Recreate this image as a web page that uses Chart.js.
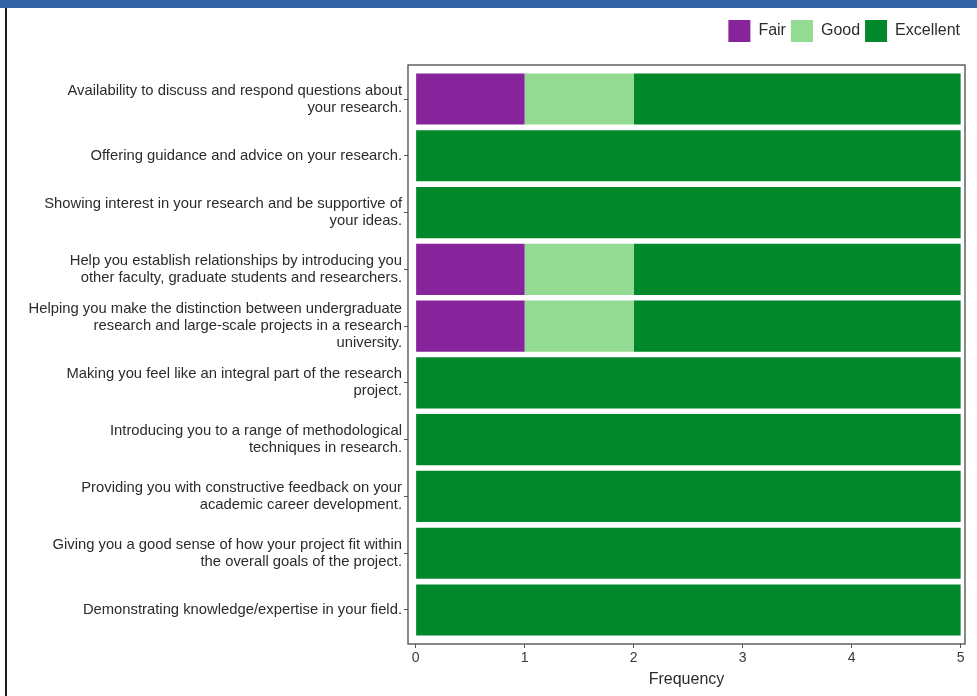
<!DOCTYPE html>
<html>
<head>
<meta charset="utf-8">
<script src="https://cdn.jsdelivr.net/npm/chart.js@4.4.1/dist/chart.umd.min.js"></script>
<style>
  html, body { margin: 0; padding: 0; background: #fff; }
  #wrap { position: relative; width: 977px; height: 696px; overflow: hidden; }
  #band { position: absolute; left: 0; top: 0; width: 977px; height: 8px; background: #3263a7; }
  #edge { position: absolute; left: 5px; top: 8px; width: 2px; height: 688px; background: #1e1e1e; }
  canvas { position: absolute; left: 0; top: 0; }
</style>
</head>
<body>
<div id="wrap">
  <canvas id="c" width="977" height="696"></canvas>
  <div id="band"></div>
  <div id="edge"></div>
</div>
<script>
const categories = [
  ["Availability to discuss and respond questions about", "your research."],
  "Offering guidance and advice on your research.",
  ["Showing interest in your research and be supportive of", "your ideas."],
  ["Help you establish relationships by introducing you", "other faculty, graduate students and researchers."],
  ["Helping you make the distinction between undergraduate", "research and large-scale projects in a research", "university."],
  ["Making you feel like an integral part of the research", "project."],
  ["Introducing you to a range of methodological", "techniques in research."],
  ["Providing you with constructive feedback on your", "academic career development."],
  ["Giving you a good sense of how your project fit within", "the overall goals of the project."],
  "Demonstrating knowledge/expertise in your field."
];
const fairValues      = [1, 0, 0, 1, 1, 0, 0, 0, 0, 0];
const goodValues      = [1, 0, 0, 1, 1, 0, 0, 0, 0, 0];
const excellentValues = [3, 5, 5, 3, 3, 5, 5, 5, 5, 5];
const xTicks = [0, 1, 2, 3, 4, 5];

const toPoints = arr => arr.map((v, i) => ({ x: v, y: i }));

const panelBorder = {
  id: 'panelBorder',
  afterDatasetsDraw(chart) {
    const a = chart.chartArea, ctx = chart.ctx;
    ctx.save();
    ctx.strokeStyle = '#4a4a4a';
    ctx.lineWidth = 1.3;
    ctx.strokeRect(a.left, a.top, a.right - a.left, a.bottom - a.top);
    ctx.restore();
  }
};

const font = "'Liberation Sans', Arial, sans-serif";

new Chart(document.getElementById('c'), {
  type: 'bar',
  data: {
    datasets: [
      { label: 'Fair', data: toPoints(fairValues), backgroundColor: '#87249b', borderWidth: 0 },
      { label: 'Good', data: toPoints(goodValues), backgroundColor: '#93da93', borderWidth: 0 },
      { label: 'Excellent', data: toPoints(excellentValues), backgroundColor: '#00882b', borderWidth: 0 }
    ]
  },
  options: {
    indexAxis: 'y',
    responsive: false,
    animation: false,
    layout: { padding: { left: 0, right: 12, top: 15, bottom: 7 } },
    datasets: { bar: { barPercentage: 0.9, categoryPercentage: 1.0 } },
    scales: {
      x: {
        type: 'linear',
        stacked: true,
        min: -0.07,
        max: 5.04,
        afterBuildTicks(scale) { scale.ticks = xTicks.map(v => ({ value: v })); },
        ticks: { color: '#3a3a3a', font: { family: font, size: 14 }, padding: 2 },
        grid: { drawOnChartArea: false, drawTicks: true, tickLength: 4, color: '#555' },
        border: { display: false },
        title: { display: true, text: 'Frequency', color: '#2b2b2b', font: { family: font, size: 16 }, padding: { top: 1, bottom: 0 } }
      },
      y: {
        type: 'linear',
        stacked: true,
        reverse: true,
        offset: false,
        min: -0.6,
        max: 9.6,
        afterBuildTicks(scale) { scale.ticks = categories.map((c, i) => ({ value: i })); },
        afterFit(scale) { scale.width = 408; },
        ticks: {
          color: '#2b2b2b',
          font: { family: font, size: 14.8, lineHeight: 1.15 },
          padding: 2,
          callback: (v) => categories[v]
        },
        grid: { offset: false, drawOnChartArea: false, drawTicks: true, tickLength: 4, color: '#555' },
        border: { display: false }
      }
    },
    plugins: {
      legend: {
        position: 'top',
        align: 'end',
        weight: 3000,
        labels: {
          boxWidth: 22, boxHeight: 22, padding: 5,
          color: '#2b2b2b',
          font: { family: font, size: 16 }
        }
      },
      subtitle: {
        display: true,
        text: '',
        position: 'top',
        weight: 1500,
        font: { size: 1, lineHeight: 1 },
        padding: 6
      },
      tooltip: { enabled: false }
    }
  },
  plugins: [panelBorder]
});
</script>
</body>
</html>
